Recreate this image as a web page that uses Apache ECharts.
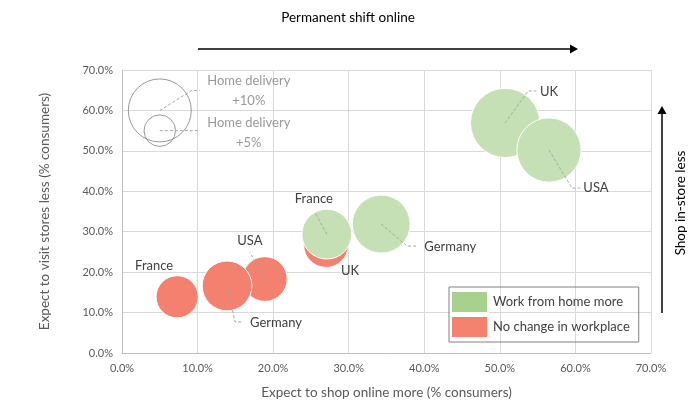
<!DOCTYPE html>
<html>
<head>
<meta charset="utf-8">
<script src="https://cdn.jsdelivr.net/npm/echarts@6/dist/echarts.min.js"></script>
<style>
  html, body { margin: 0; padding: 0; background: #fff; }
  #chart { width: 697px; height: 420px; }
</style>
</head>
<body>
<div id="chart"></div>
<script>
// all values in % of consumers
const wfhNames = ['UK', 'USA', 'France', 'Germany'];
const wfhOnline = [50.7, 56.5, 27.1, 34.3];
const wfhStores = [56.9, 50.2, 29.4, 31.9];
const wfhDelivery = [11.0, 10.2, 7.9, 9.2];

const sameNames = ['France', 'USA', 'Germany', 'UK'];
const sameOnline = [7.3, 18.9, 13.9, 27.0];
const sameStores = [13.9, 18.3, 16.6, 26.7];
const sameDelivery = [6.7, 7.1, 7.9, 7.1];

// size key
const keyNames = ['Home delivery\n+10%', 'Home delivery\n+5%'];
const keyOnline = [5, 5];
const keyStores = [60, 55];
const keyDelivery = [10, 5];

const axisMin = 0, axisMax = 70, axisStep = 10;

// label offsets from bubble centre (px)
const labelShift = {
    'Work from home more': [[44, -31], [47, 38], [-13, -35], [69, 23]],
    'No change in workplace': [[-23, -31], [-15, -38], [49, 37], [24, 26]],
    'key': [[89, -20], [89, 2]]
};
// leader lines: elbow dx, dy, then horizontal tail
const leaderShift = {
    'Work from home more': [[23, -32, 8], [23, 38, 8], [-12, -22, 0], [26, 22, 10]],
    'No change in workplace': [null, [-15, -27, 0], [8, 36, 8], null],
    'key': [[32, -20, 8], [30, 0, 8]]
};

function pts(xs, ys, ss, names) {
    return xs.map((x, i) => ({name: names[i], value: [x, ys[i], ss[i]]}));
}

const sizeOf = d => d[2] * 6.3;
const font = 'Lato';

function bubbles(name, data, color, labelColor) {
    return {
        name: name,
        type: 'scatter',
        data: data,
        z: 2,
        symbolSize: sizeOf,
        itemStyle: color ? {color: color, borderColor: '#fff', borderWidth: 1, opacity: 1}
            : {color: 'rgba(0,0,0,0)', borderColor: '#808080', borderWidth: 1},
        label: {
            show: true,
            position: 'inside',
            formatter: p => p.name,
            color: labelColor,
            fontSize: 13,
            fontFamily: font,
            lineHeight: 20,
            align: 'center'
        },
        labelLayout: function (params) {
            const s = labelShift[name][params.dataIndex];
            return {dx: s[0], dy: s[1]};
        },
        emphasis: {disabled: true}
    };
}

function leaders(name, data) {
    return {
        name: name + ' leader',
        type: 'custom',
        z: 3,
        silent: true,
        data: data.map(d => d.value),
        encode: {x: 0, y: 1},
        renderItem: function (params, api) {
            const s = leaderShift[name][params.dataIndex];
            if (!s) return null;
            const c = api.coord([api.value(0), api.value(1)]);
            const e = [c[0] + s[0], c[1] + s[1]];
            const line = [c, e];
            if (s[2]) line.push([e[0] + s[2], e[1]]);
            return {
                type: 'polyline',
                shape: {points: line},
                style: {stroke: '#a6a6a6', lineWidth: 1, lineDash: [3, 2], fill: null}
            };
        }
    };
}

const keyData = pts(keyOnline, keyStores, keyDelivery, keyNames);
const sameData = pts(sameOnline, sameStores, sameDelivery, sameNames);
const wfhData = pts(wfhOnline, wfhStores, wfhDelivery, wfhNames);

const chart = echarts.init(document.getElementById('chart'));
chart.setOption({
    animation: false,
    textStyle: {fontFamily: font},
    grid: {left: 122, right: 46, top: 70, bottom: 67},
    xAxis: {
        type: 'value', min: axisMin, max: axisMax, interval: axisStep,
        name: 'Expect to shop online more (% consumers)',
        nameLocation: 'middle', nameGap: 33,
        nameTextStyle: {fontSize: 13.5, color: '#595959', fontFamily: font},
        axisLine: {show: true, lineStyle: {color: '#bfbfbf'}},
        axisTick: {show: false},
        splitLine: {lineStyle: {color: '#d9d9d9'}},
        axisLabel: {formatter: v => v.toFixed(1) + '%', color: '#595959', fontSize: 11, margin: 10}
    },
    yAxis: {
        type: 'value', min: axisMin, max: axisMax, interval: axisStep,
        name: 'Expect to visit stores less (% consumers)',
        nameLocation: 'middle', nameGap: 70,
        nameTextStyle: {fontSize: 13.5, color: '#595959', fontFamily: font},
        axisLine: {show: true, lineStyle: {color: '#bfbfbf'}},
        axisTick: {show: false},
        splitLine: {lineStyle: {color: '#d9d9d9'}},
        axisLabel: {formatter: v => v.toFixed(1) + '%', color: '#595959', fontSize: 11, margin: 9}
    },
    legend: {
        orient: 'vertical', left: 449, top: 287,
        data: [
            {name: 'Work from home more', itemStyle: {color: '#A9D18E'}},
            {name: 'No change in workplace', itemStyle: {color: '#F4826E'}}
        ],
        icon: 'rect', itemWidth: 37, itemHeight: 22, itemGap: 1,
        borderColor: '#808080', borderWidth: 1, padding: [3, 9, 3, 1],
        textStyle: {fontSize: 13, color: '#404040', fontFamily: font}
    },
    graphic: [
        {type: 'text', x: 348, y: 18,
            style: {text: 'Permanent shift online', fontSize: 13.5, fontFamily: font, fill: '#000', align: 'center', verticalAlign: 'middle'}},
        {type: 'line', shape: {x1: 198, y1: 49, x2: 571, y2: 49}, style: {stroke: '#000', lineWidth: 1.5}},
        {type: 'polygon', shape: {points: [[570, 44.5], [578, 49], [570, 53.5]]}, style: {fill: '#000'}},
        {type: 'line', shape: {x1: 662, y1: 313, x2: 662, y2: 113}, style: {stroke: '#000', lineWidth: 1.5}},
        {type: 'polygon', shape: {points: [[657.5, 114], [662, 106], [666.5, 114]]}, style: {fill: '#000'}},
        {type: 'text', x: 681, y: 203, rotation: Math.PI / 2,
            style: {text: 'Shop in-store less', fontSize: 13.5, fontFamily: font, fill: '#000', align: 'center', verticalAlign: 'middle'}}
    ],
    series: [
        bubbles('key', keyData, null, '#7f7f7f'),
        leaders('key', keyData),
        bubbles('No change in workplace', sameData, '#F4806F', '#404040'),
        leaders('No change in workplace', sameData),
        bubbles('Work from home more', wfhData, '#C5E0B4', '#404040'),
        leaders('Work from home more', wfhData)
    ]
});
</script>
</body>
</html>
